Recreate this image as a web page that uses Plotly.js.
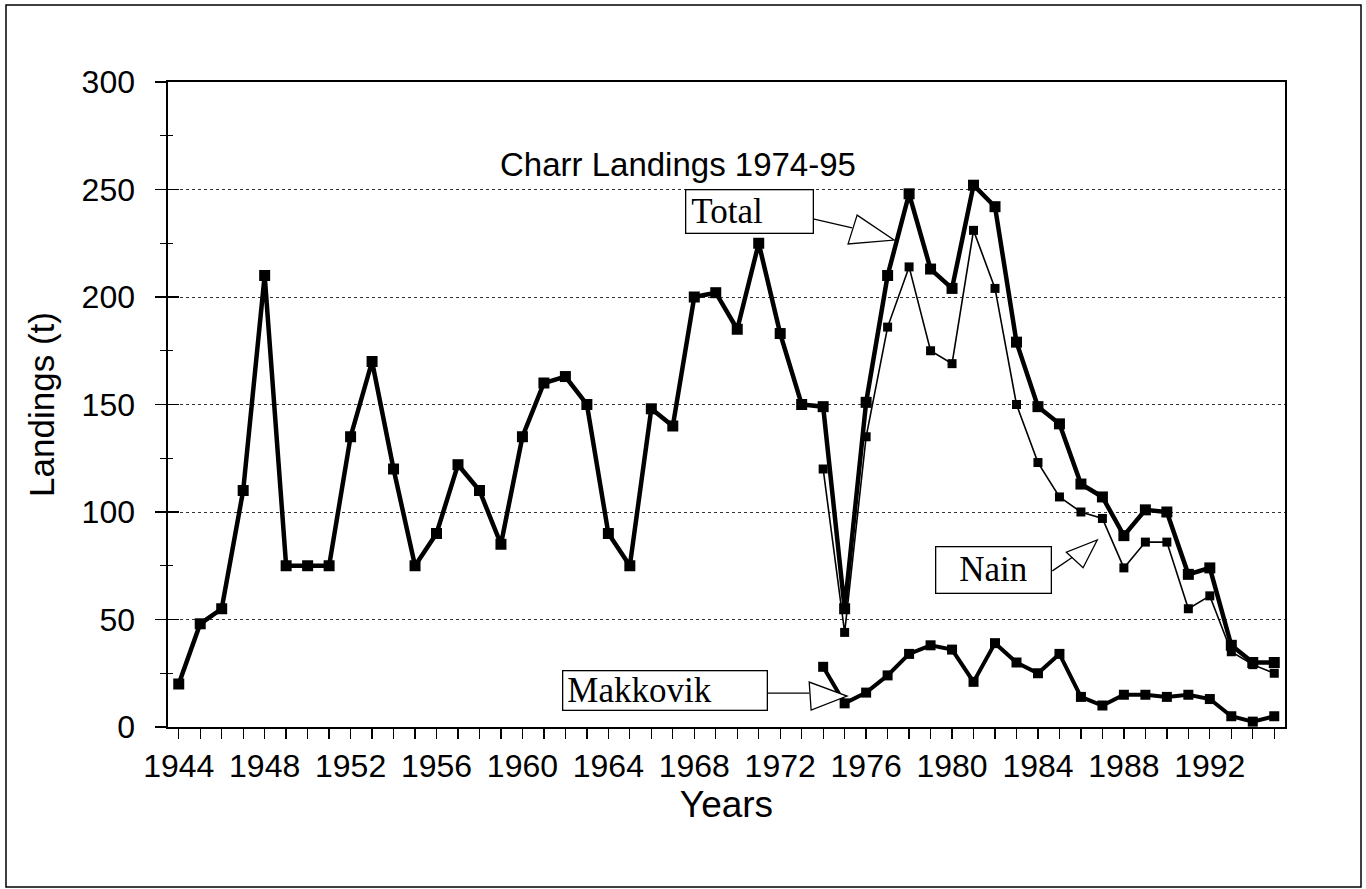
<!DOCTYPE html>
<html>
<head>
<meta charset="utf-8">
<script src="https://cdn.plot.ly/plotly-3.0.1.min.js"></script>
<style>html,body{margin:0;padding:0;background:#fff;}#chart{width:1366px;height:889px;}</style>
</head>
<body>
<div id="chart"></div>
<script>
const totalYears = [1944,1945,1946,1947,1948,1949,1950,1951,1952,1953,1954,1955,1956,1957,1958,1959,1960,1961,1962,1963,1964,1965,1966,1967,1968,1969,1970,1971,1972,1973,1974,1975,1976,1977,1978,1979,1980,1981,1982,1983,1984,1985,1986,1987,1988,1989,1990,1991,1992,1993,1994,1995];
const totalValues = [20,48,55,110,210,75,75,75,135,170,120,75,90,122,110,85,135,160,163,150,90,75,148,140,200,202,185,225,183,150,149,55,151,210,248,213,204,252,242,179,149,141,113,107,89,101,100,71,74,38,30,30];
const siteYears = [1974,1975,1976,1977,1978,1979,1980,1981,1982,1983,1984,1985,1986,1987,1988,1989,1990,1991,1992,1993,1994,1995];
const nainValues = [120,44,135,186,214,175,169,231,204,150,123,107,100,97,74,86,86,55,61,35,29,25];
const makkovikValues = [28,11,16,24,34,38,36,21,39,30,25,34,14,10,15,15,14,15,13,5,2.5,5];
const chartTitle = "Charr Landings 1974-95";
const xTitle = "Years";
const yTitle = "Landings (t)";

const W = 1366, H = 889;
const M = {l: 168, r: 81, t: 82, b: 162};
const px2paperX = p => (p - M.l) / (W - M.l - M.r);
const px2paperY = p => 1 - (p - M.t) / (H - M.t - M.b);

const mk = {symbol: 'square', color: '#000'};
const traces = [
  {x: siteYears, y: nainValues, type: 'scatter', mode: 'lines+markers', name: 'Nain',
   line: {color: '#000', width: 1.6}, marker: Object.assign({size: 9}, mk)},
  {x: totalYears, y: totalValues, type: 'scatter', mode: 'lines+markers', name: 'Total',
   line: {color: '#000', width: 4.5}, marker: Object.assign({size: 11}, mk)},
  {x: siteYears, y: makkovikValues, type: 'scatter', mode: 'lines+markers', name: 'Makkovik',
   line: {color: '#000', width: 4}, marker: Object.assign({size: 10}, mk)},
  {x: [1944], y: [0], yaxis: 'y2', type: 'scatter', mode: 'markers', marker: {opacity: 0}, hoverinfo: 'skip', showlegend: false}
];

const tickFont = {family: 'Liberation Sans, Arial, sans-serif', size: 32, color: '#000'};
const boxFont = {family: 'Liberation Serif, Times New Roman, serif', size: 35, color: '#000'};

const line = (x0, y0, x1, y1) => ({type: 'line', xref: 'x', yref: 'y', x0, y0, x1, y1, line: {color: '#000', width: 1.3}});
const tri = pts => ({type: 'path', xref: 'x', yref: 'y', path: 'M' + pts.map(p => p[0] + ',' + p[1]).join(' L') + ' Z', fillcolor: '#fff', line: {color: '#000', width: 1.3}});

const layout = {
  width: W, height: H,
  margin: M,
  paper_bgcolor: '#fff', plot_bgcolor: '#fff',
  showlegend: false,
  xaxis: {
    range: [1943.5, 1995.5], tick0: 1944, dtick: 4, ticks: 'outside', ticklen: 10, tickwidth: 1.3, tickcolor: '#000',
    minor: {dtick: 1, tick0: 1944, ticks: 'outside', ticklen: 10, tickwidth: 1.3, tickcolor: '#000', showgrid: false},
    showline: true, linecolor: '#000', linewidth: 1.6, mirror: true, showgrid: false, zeroline: false,
    tickfont: tickFont, ticklabelstandoff: 0,
    title: {text: xTitle, font: {family: 'Liberation Sans, Arial, sans-serif', size: 37, color: '#000'}, standoff: 2}
  },
  yaxis: {
    range: [0, 300], dtick: 50, ticks: 'outside', ticklen: 11, tickwidth: 1.3, tickcolor: '#000',
    minor: {dtick: 25, ticks: 'outside', ticklen: 6, tickwidth: 1.3, tickcolor: '#000', showgrid: false},
    showline: true, linecolor: '#000', linewidth: 1.6, mirror: true,
    showgrid: true, gridcolor: '#333', gridwidth: 1, griddash: 'dot', zeroline: false,
    tickfont: tickFont, ticklabelstandoff: 14,
    title: {text: yTitle, font: {family: 'Liberation Sans, Arial, sans-serif', size: 35, color: '#000'}, standoff: 16}
  },
  yaxis2: {
    overlaying: 'y', range: [0, 300], dtick: 50, ticks: 'inside', ticklen: 11, tickwidth: 1.3, tickcolor: '#000',
    minor: {dtick: 25, ticks: 'inside', ticklen: 5, tickwidth: 1.3, tickcolor: '#000'},
    showticklabels: false, showgrid: false, zeroline: false, showline: false
  },
  annotations: [
    {text: chartTitle, xref: 'paper', yref: 'paper', x: px2paperX(678), y: px2paperY(144), showarrow: false,
     font: {family: 'Liberation Sans, Arial, sans-serif', size: 33, color: '#000'}},
    {text: 'Total', xref: 'x', yref: 'y', x: 1970.55, y: 239.8, showarrow: false, font: boxFont,
     bordercolor: '#000', borderwidth: 1.3, borderpad: 5, width: 116, height: 32, align: 'left', bgcolor: '#fff'},
    {text: 'Nain', xref: 'x', yref: 'y', x: 1981.95, y: 73.0, showarrow: false, font: boxFont,
     bordercolor: '#000', borderwidth: 1.3, borderpad: 0, width: 114, height: 45, align: 'center', bgcolor: '#fff'},
    {text: 'Makkovik', xref: 'x', yref: 'y', x: 1966.62, y: 17.0, showarrow: false, font: boxFont,
     bordercolor: '#000', borderwidth: 1.3, borderpad: 4, width: 195, height: 30, align: 'left', bgcolor: '#fff'}
  ],
  shapes: [
    {type: 'rect', xref: 'paper', yref: 'paper', x0: px2paperX(6), x1: px2paperX(1361), y0: px2paperY(5), y1: px2paperY(887), line: {color: '#000', width: 1.5}, layer: 'below'},
    line(1973.53, 236.3, 1975.35, 232.1),
    tri([[1975.58, 238.1], [1975.16, 224.7], [1977.30, 226.5]]),
    line(1984.67, 72.6, 1985.76, 80.0),
    tri([[1985.32, 81.3], [1986.10, 74.1], [1986.76, 87.0]]),
    line(1971.39, 15.8, 1973.35, 15.8),
    tri([[1973.35, 20.9], [1973.44, 7.9], [1975.11, 14.4]])
  ]
};

Plotly.newPlot('chart', traces, layout, {staticPlot: true, displayModeBar: false});
</script>
</body>
</html>
